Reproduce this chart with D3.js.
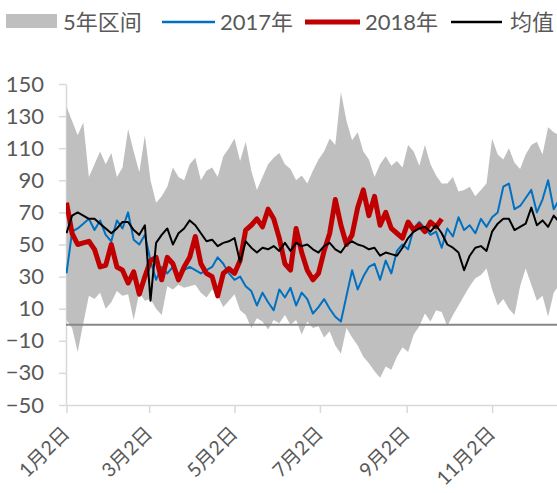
<!DOCTYPE html>
<html>
<head>
<meta charset="utf-8">
<script src="https://cdn.jsdelivr.net/npm/d3@7"></script>
<style>
  body { margin: 0; background: #fff; }
  text { font-family: Lato, "Noto Sans CJK SC", sans-serif; fill: #595959; }
</style>
</head>
<body>
<div id="chart"></div>
<script>
// legend + axis labels
const legendNames = ["5年区间", "2017年", "2018年", "均值"];
const tickDates = ["2018-01-02", "2018-03-02", "2018-05-02", "2018-07-02", "2018-09-02", "2018-11-02"];
const tickLabels = ["1月2日", "3月2日", "5月2日", "7月2日", "9月2日", "11月2日"];
const yTicks = [150, 130, 110, 90, 70, 50, 30, 10, -10, -30, -50];

// one point every 4 days starting 1月2日
const startDay = "2018-01-02";
const endDay = "2018-12-31";
const dayStep = 4;

const rangeHigh = [136,127,118,126,92,100,108,100,107,92, 98,122,108,95,118,90,76,80,86,98,
  92,90,100,104,90,96,98,92,105,110, 116,102,114,96,84,92,100,104,107,100,
  97,90,93,88,96,103,108,116,112,145, 127,115,120,108,103,92,100,105,99,102,
  98,112,108,99,112,100,93,88,88,92, 83,84,86,80,84,88,116,106,103,110,
  101,97,106,112,114,106,123,120,118];
const rangeLow = [3,-2,-17,1,18,16,20,10,14,21, 18,19,3,20,15,16,10,6,24,22,
  25,23,24,25,20,17,22,18,11,15, 19,9,6,-2,4,2,-3,3,1,6,
  0,3,-6,2,-2,-1,-8,-4,-13,-18, -2,-8,-13,-20,-24,-29,-33,-26,-28,-20,
  -14,-17,-6,-1,7,2,9,8,-1,6, 12,18,24,29,31,35,22,12,16,10,
  6,24,35,25,15,18,5,20,25];
const values2017 = [32,58,60,63,66,59,65,56,52,65, 60,70,53,50,56,40,28,36,32,36,
  30,34,36,34,32,34,36,42,38,32, 28,30,24,21,12,20,14,9,22,17,
  23,12,20,16,7,11,16,10,5,2, 18,34,22,30,36,38,28,40,32,46,
  50,47,60,64,60,56,58,48,60,55, 67,59,62,57,66,61,67,70,86,88,
  72,74,79,84,70,78,90,72,78];
const values2018 = [76,57,50,51,52,47,36,37,50,36, 34,26,33,19,30,40,42,28,42,38,
  28,36,42,55,38,32,30,18,32,35, 32,40,59,62,66,61,72,66,54,38,
  34,60,45,34,28,32,46,57,78,62, 50,56,73,84,68,80,62,70,60,57,
  54,64,59,62,58,64,61,66];
const avgValues = [57,68,70,68,66,66,63,60,57,60, 64,64,59,56,62,15,51,56,60,50,
  57,60,65,62,57,52,53,49,51,52, 54,39,52,48,45,48,47,49,46,51,
  46,51,49,50,47,45,49,51,47,45, 50,52,50,49,47,48,43,45,44,43,
  48,54,58,60,61,58,62,57,50,48, 45,34,43,48,49,46,58,63,66,66,
  59,61,63,73,62,65,61,68,64];

const width = 557, height = 493;
const margin = {top: 84, left: 66, bottom: 88};

const parse = d3.timeParse("%Y-%m-%d");
const start = parse(startDay);
const dateAt = i => d3.timeDay.offset(start, i * dayStep);

const svg = d3.select("#chart").append("svg")
    .attr("width", width)
    .attr("height", height);

const x = d3.scaleTime()
    .domain([start, parse(endDay)])
    .range([66.5, 574.7]);
const y = d3.scaleLinear()
    .domain([-50, 150])
    .range([height - margin.bottom, margin.top]);

svg.append("clipPath").attr("id", "plot-clip")
    .append("rect")
    .attr("x", margin.left).attr("y", 0)
    .attr("width", width - margin.left).attr("height", height);

// Y axis
svg.append("g")
    .attr("transform", `translate(${margin.left},0)`)
    .call(d3.axisLeft(y).tickValues(yTicks).tickSize(7).tickSizeOuter(0).tickPadding(15))
    .call(g => g.select(".domain").attr("stroke", "#d9d9d9").attr("stroke-width", 1.5))
    .call(g => g.selectAll(".tick line").attr("stroke", "#d9d9d9").attr("stroke-width", 1.5))
    .call(g => g.selectAll("text").style("font-size", "22px"));

// X axis
svg.append("g")
    .attr("transform", `translate(0,${y(-50)})`)
    .call(d3.axisBottom(x).tickValues(tickDates.map(parse))
        .tickFormat((d, i) => tickLabels[i]).tickSize(8).tickSizeOuter(0))
    .call(g => g.select(".domain").attr("stroke", "#d9d9d9").attr("stroke-width", 1.5))
    .call(g => g.selectAll(".tick line").attr("stroke", "#d9d9d9").attr("stroke-width", 1.5))
    .call(g => g.selectAll("text")
        .style("font-size", "19.5px")
        .attr("x", 0).attr("y", 0).attr("dy", "0.35em")
        .attr("text-anchor", "end")
        .attr("transform", "translate(-1,25) rotate(-45)"));

const plot = svg.append("g").attr("clip-path", "url(#plot-clip)");

// 5年区间 band
plot.append("path")
    .datum(rangeHigh.map((v, i) => ({date: dateAt(i), hi: v, lo: rangeLow[i]})))
    .attr("fill", "#bfbfbf")
    .attr("d", d3.area().x(d => x(d.date)).y0(d => y(d.lo)).y1(d => y(d.hi)));

// zero line
plot.append("line")
    .attr("x1", margin.left).attr("x2", width)
    .attr("y1", y(0)).attr("y2", y(0))
    .attr("stroke", "#878787").attr("stroke-width", 2);

const line = d3.line().x((d, i) => x(dateAt(i))).y(d => y(d));

const series = [
    {values: values2017, color: "#0070c0", w: 2},
    {values: values2018, color: "#c00000", w: 5},
    {values: avgValues, color: "#000000", w: 2}
];
series.forEach(s => {
    plot.append("path")
        .datum(s.values)
        .attr("fill", "none")
        .attr("stroke", s.color)
        .attr("stroke-width", s.w)
        .attr("stroke-linejoin", "round")
        .attr("d", line);
});

// legend
const legend = svg.append("g").attr("class", "legend");
legend.append("rect")
    .attr("x", 6).attr("y", 14).attr("width", 51).attr("height", 14)
    .attr("fill", "#bfbfbf");
const legendItems = [
    {x1: 162, x2: 215, color: "#0070c0", w: 2.5},
    {x1: 305, x2: 360, color: "#c00000", w: 5},
    {x1: 451, x2: 502, color: "#000000", w: 2.5}
];
legendItems.forEach(d => {
    legend.append("line")
        .attr("x1", d.x1).attr("x2", d.x2).attr("y1", 22).attr("y2", 22)
        .attr("stroke", d.color).attr("stroke-width", d.w);
});
const textX = [63, 220, 365, 510];
legend.selectAll("text")
    .data(legendNames)
    .enter()
    .append("text")
    .attr("x", (d, i) => textX[i])
    .attr("y", 22)
    .attr("dy", "0.35em")
    .style("font-size", "22px")
    .text(d => d);
</script>
</body>
</html>
